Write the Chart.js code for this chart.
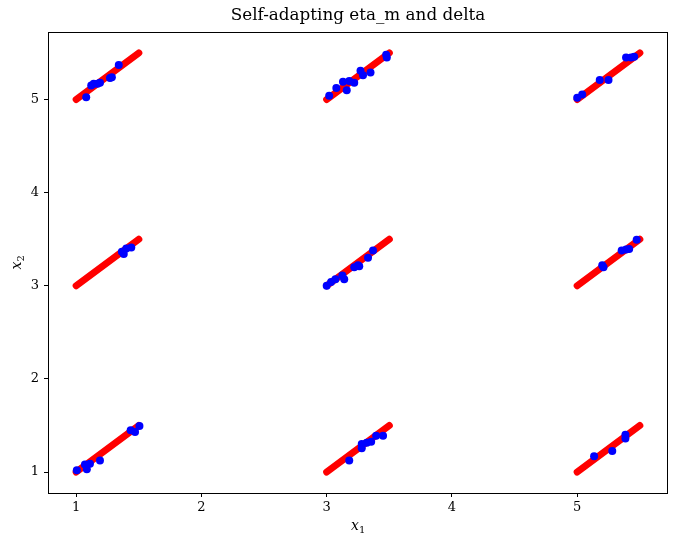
<!DOCTYPE html>
<html>
<head>
<meta charset="utf-8">
<script src="https://cdn.jsdelivr.net/npm/chart.js@4"></script>
<style>
  html, body { margin: 0; padding: 0; background: #fff; }
  #wrap { width: 678px; height: 546px; }
</style>
</head>
<body>
<div id="wrap"><canvas id="chart" width="678" height="546"></canvas></div>
<script>
// front segments (red): start and end of each piece
const frontStartX = [1, 3, 5, 1, 3, 5, 1, 3, 5];
const frontStartY = [5, 5, 5, 3, 3, 3, 1, 1, 1];
const frontEndX   = [1.5, 3.5, 5.5, 1.5, 3.5, 5.5, 1.5, 3.5, 5.5];
const frontEndY   = [5.5, 5.5, 5.5, 3.5, 3.5, 3.5, 1.5, 1.5, 1.5];

// obtained solutions (blue)
const blueX = [
  1.08, 1.12, 1.14, 1.17, 1.19, 1.27, 1.285, 1.34,
  3.02, 3.077, 3.13, 3.16, 3.18, 3.22, 3.27, 3.29, 3.35, 3.475, 3.48,
  5.00, 5.04, 5.18, 5.25, 5.39, 5.43, 5.455,
  1.365, 1.38, 1.40, 1.44,
  3.00, 3.035, 3.07, 3.125, 3.14, 3.22, 3.25, 3.26, 3.33, 3.37,
  5.20, 5.21, 5.355, 5.39, 5.415, 5.475,
  1.005, 1.07, 1.085, 1.11, 1.19, 1.435, 1.47, 1.505,
  3.18, 3.28, 3.28, 3.32, 3.355, 3.395, 3.45,
  5.135, 5.28, 5.385, 5.385
];
const blueY = [
  5.025, 5.15, 5.17, 5.17, 5.18, 5.23, 5.24, 5.37,
  5.04, 5.125, 5.19, 5.10, 5.20, 5.18, 5.31, 5.26, 5.29, 5.48, 5.45,
  5.02, 5.055, 5.21, 5.21, 5.45, 5.45, 5.46,
  3.365, 3.34, 3.40, 3.41,
  3.00, 3.04, 3.07, 3.11, 3.07, 3.20, 3.22, 3.21, 3.30, 3.38,
  3.22, 3.20, 3.38, 3.39, 3.395, 3.495,
  1.02, 1.08, 1.03, 1.09, 1.125, 1.45, 1.43, 1.495,
  1.125, 1.255, 1.30, 1.315, 1.325, 1.39, 1.39,
  1.17, 1.225, 1.40, 1.36
];

const xTicks = [1, 2, 3, 4, 5];
const yTicks = [1, 2, 3, 4, 5];
const titleText = "Self-adapting eta_m and delta";

const datasets = [];
frontStartX.forEach((x0, i) => {
  datasets.push({
    data: [{x: x0, y: frontStartY[i]}, {x: frontEndX[i], y: frontEndY[i]}],
    showLine: true,
    borderColor: '#ff0000',
    borderWidth: 7,
    borderCapStyle: 'round',
    pointRadius: 0,
    pointHoverRadius: 0,
    order: 2
  });
});
datasets.push({
  data: blueX.map((x, i) => ({x: x, y: blueY[i]})),
  showLine: false,
  backgroundColor: '#0000ff',
  borderWidth: 0,
  pointRadius: 4,
  pointHoverRadius: 4,
  order: 1
});

// box, title and axis labels
const decor = {
  id: 'decor',
  afterDraw(chart) {
    const ctx = chart.ctx;
    const a = chart.chartArea;
    ctx.save();
    ctx.strokeStyle = '#000';
    ctx.lineWidth = 1;
    ctx.strokeRect(Math.round(a.left) + 0.5, Math.round(a.top) + 0.5,
                   Math.round(a.right - a.left) - 1, Math.round(a.bottom - a.top));

    ctx.fillStyle = '#000';
    ctx.textAlign = 'center';
    ctx.textBaseline = 'alphabetic';
    ctx.font = '16.8px "DejaVu Serif"';
    ctx.fillText(titleText, (a.left + a.right) / 2, 20);

    // x label
    const cx = (a.left + a.right) / 2;
    ctx.font = 'italic 14px "DejaVu Serif"';
    ctx.textAlign = 'right';
    ctx.fillText('x', cx + 1, 530);
    ctx.font = '10px "DejaVu Serif"';
    ctx.textAlign = 'left';
    ctx.fillText('1', cx + 1, 533);

    // y label
    ctx.translate(21, (a.top + a.bottom) / 2);
    ctx.rotate(-Math.PI / 2);
    ctx.font = 'italic 14px "DejaVu Serif"';
    ctx.textAlign = 'right';
    ctx.fillText('x', 1, 0);
    ctx.font = '10px "DejaVu Serif"';
    ctx.textAlign = 'left';
    ctx.fillText('2', 1, 3);
    ctx.restore();
  }
};

new Chart(document.getElementById('chart'), {
  type: 'scatter',
  data: { datasets: datasets },
  options: {
    responsive: false,
    animation: false,
    events: [],
    layout: { padding: { top: 32, right: 10, left: 0, bottom: 0 } },
    plugins: { legend: { display: false }, tooltip: { enabled: false } },
    scales: {
      x: {
        type: 'linear',
        min: 0.775,
        max: 5.725,
        afterBuildTicks: s => { s.ticks = xTicks.map(v => ({value: v})); },
        afterFit: s => { s.height = 53; },
        grid: { drawOnChartArea: false, drawTicks: true, tickLength: 4, tickColor: '#000' },
        border: { display: false },
        ticks: { color: '#000', font: { family: 'DejaVu Serif', size: 13 }, padding: 3, maxRotation: 0 }
      },
      y: {
        type: 'linear',
        min: 0.775,
        max: 5.725,
        afterBuildTicks: s => { s.ticks = yTicks.map(v => ({value: v})); },
        afterFit: s => { s.width = 48; },
        grid: { drawOnChartArea: false, drawTicks: true, tickLength: 4, tickColor: '#000' },
        border: { display: false },
        ticks: { color: '#000', font: { family: 'DejaVu Serif', size: 13 }, padding: 5 }
      }
    }
  },
  plugins: [decor]
});
</script>
</body>
</html>
